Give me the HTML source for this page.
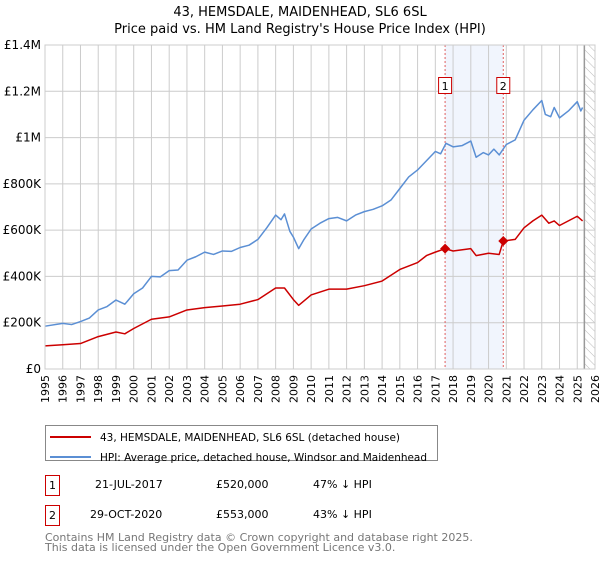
<!DOCTYPE html>
<html><head><meta charset="utf-8"><style>
body{margin:0;background:#fff;font-family:"Liberation Sans","DejaVu Sans",sans-serif;}
svg text{font-family:"DejaVu Sans","Liberation Sans",sans-serif;}
</style></head><body>
<svg id="c" width="600" height="560" xmlns="http://www.w3.org/2000/svg">
<defs><pattern id="hatch" width="6" height="6" patternUnits="userSpaceOnUse" patternTransform="rotate(-45)"><line x1="0" y1="0" x2="0" y2="6" stroke="#bbb" stroke-width="1"/></pattern></defs>
<text x="300" y="16" text-anchor="middle" font-size="13" fill="#000">43, HEMSDALE, MAIDENHEAD, SL6 6SL</text>
<text x="300" y="33" text-anchor="middle" font-size="13" fill="#000">Price paid vs. HM Land Registry's House Price Index (HPI)</text>
<g id="plot"></g>
<g>
<rect x="45.5" y="425.5" width="392" height="35" fill="#fff" stroke="#888"/>
<line x1="50" y1="437" x2="91" y2="437" stroke="#cc0000" stroke-width="2"/>
<text x="100" y="441" font-size="11" textLength="300" lengthAdjust="spacingAndGlyphs">43, HEMSDALE, MAIDENHEAD, SL6 6SL (detached house)</text>
<line x1="50" y1="457" x2="91" y2="457" stroke="#5b8fd4" stroke-width="2"/>
<text x="100" y="461" font-size="11" textLength="327" lengthAdjust="spacingAndGlyphs">HPI: Average price, detached house, Windsor and Maidenhead</text>
</g>
<g font-size="11">
<rect x="45.5" y="475.5" width="14" height="20" fill="#fff" stroke="#cc0000"/><text x="52.5" y="489" text-anchor="middle">1</text>
<text x="95" y="488">21-JUL-2017</text><text x="216" y="488">£520,000</text><text x="313" y="488">47% ↓ HPI</text>
<rect x="45.5" y="505.5" width="14" height="20" fill="#fff" stroke="#cc0000"/><text x="52.5" y="519" text-anchor="middle">2</text>
<text x="90" y="518">29-OCT-2020</text><text x="216" y="518">£553,000</text><text x="313" y="518">43% ↓ HPI</text>
</g>
<text x="45" y="541" font-size="11" fill="#777">Contains HM Land Registry data © Crown copyright and database right 2025.</text>
<text x="45" y="551" font-size="11" fill="#777">This data is licensed under the Open Government Licence v3.0.</text>
</svg>
<script>
const hpiYears=[1995,1996,1996.5,1997,1997.5,1998,1998.5,1999,1999.5,2000,2000.5,2001,2001.5,2002,2002.5,2003,2003.5,2004,2004.5,2005,2005.5,2006,2006.5,2007,2007.5,2008,2008.3,2008.5,2008.8,2009,2009.3,2009.6,2010,2010.5,2011,2011.5,2012,2012.5,2013,2013.5,2014,2014.5,2015,2015.5,2016,2016.5,2017,2017.3,2017.6,2018,2018.5,2019,2019.3,2019.7,2020,2020.3,2020.6,2021,2021.5,2022,2022.5,2023,2023.2,2023.5,2023.7,2024,2024.5,2025,2025.2,2025.3];
const hpiValues=[185,197,192,205,220,255,270,298,280,325,350,400,398,425,428,470,485,505,495,510,508,525,535,560,610,665,645,670,595,570,520,560,605,630,650,655,640,665,680,690,705,730,780,830,860,900,940,930,975,960,965,985,915,935,925,950,925,970,990,1075,1120,1160,1100,1090,1130,1085,1115,1155,1115,1130];
const propYears=[1995,1996,1997,1998,1999,1999.5,2000,2001,2002,2003,2004,2005,2006,2007,2008,2008.5,2009,2009.3,2010,2011,2012,2013,2014,2015,2016,2016.5,2017,2017.55,2018,2019,2019.3,2020,2020.6,2020.83,2021.5,2022,2022.5,2023,2023.4,2023.7,2024,2024.5,2025,2025.3];
const propValues=[100,105,110,140,160,152,175,215,225,255,265,272,280,300,350,350,300,275,320,345,345,360,380,430,460,490,505,520,510,520,490,500,495,553,560,610,640,665,630,640,620,640,660,640];
const saleYears=[2017.55,2020.83];
const saleValues=[520,553];
const saleLabels=["1","2"];
const yTicks=[0,200,400,600,800,1000,1200,1400];
const yTickLabels=["£0","£200K","£400K","£600K","£800K","£1M","£1.2M","£1.4M"];
const xTicks=[1995,1996,1997,1998,1999,2000,2001,2002,2003,2004,2005,2006,2007,2008,2009,2010,2011,2012,2013,2014,2015,2016,2017,2018,2019,2020,2021,2022,2023,2024,2025,2026];

const L=45,R=595,T=45,B=369,X0=1995,X1=2026,YMAX=1400;
const xs=v=>L+(v-X0)/(X1-X0)*(R-L);
const ys=v=>B-v/YMAX*(B-T);
const NS='http://www.w3.org/2000/svg';
const g=document.getElementById('plot');
function mk(tag,attrs,parent){const e=document.createElementNS(NS,tag);for(const k in attrs)e.setAttribute(k,attrs[k]);(parent||g).appendChild(e);return e;}
let e;
e=mk('rect',{x:xs(saleYears[0]),y:T,width:xs(saleYears[1])-xs(saleYears[0]),height:B-T,fill:'#eef3fc',opacity:0.8});


e=mk('rect',{x:xs(2025.4),y:T,width:R-xs(2025.4),height:B-T,fill:'url(#hatch)'});


xTicks.forEach(t=>{
 e=mk('line',{x1:xs(t),x2:xs(t),y1:T,y2:B,stroke:'#ccc','stroke-width':1});
 
 
 e=mk('text',{x:0,y:0,transform:`translate(${xs(t)+4},${B+6}) rotate(-90)`,'text-anchor':'end','font-size':11});
 e.textContent=t;
 
 
});
yTicks.forEach((t,i)=>{
 e=mk('line',{x1:L,x2:R,y1:ys(t),y2:ys(t),stroke:'#ccc','stroke-width':1});
 
 
 e=mk('text',{x:L-4,y:ys(t)+4,'text-anchor':'end','font-size':12});
 e.textContent=yTickLabels[i];
 
 
});
e=mk('line',{x1:xs(2025.4),x2:xs(2025.4),y1:T,y2:B,stroke:'#999','stroke-width':1.5});


saleYears.forEach(y=>{
 e=mk('line',{x1:xs(y),x2:xs(y),y1:T,y2:B,stroke:'#e06060','stroke-width':1,'stroke-dasharray':'2,2'});
 
 
});
function line(xa,va,color){return mk('polyline',{points:xa.map((x,i)=>xs(x)+','+ys(va[i])).join(' '),fill:'none',stroke:color,'stroke-width':1.5,'stroke-linejoin':'round'});}
e=line(hpiYears,hpiValues,'#5b8fd4');


e=line(propYears,propValues,'#cc0000');


saleYears.forEach((y,i)=>{
 const cx=xs(y),cy=ys(saleValues[i]);
 e=mk('polygon',{points:`${cx},${cy-5} ${cx+5},${cy} ${cx},${cy+5} ${cx-5},${cy}`,fill:'#cc0000'});
 
 
 e=mk('rect',{x:cx-6.5,y:77.5,width:13,height:16,fill:'#fff',stroke:'#cc0000'});
 
 
 e=mk('text',{x:cx,y:90,'text-anchor':'middle','font-size':11});
 e.textContent=saleLabels[i];
 
 
});
e=mk('rect',{x:L,y:T,width:R-L,height:B-T,fill:'none',stroke:'#ccc'});


</script>
</body></html>
